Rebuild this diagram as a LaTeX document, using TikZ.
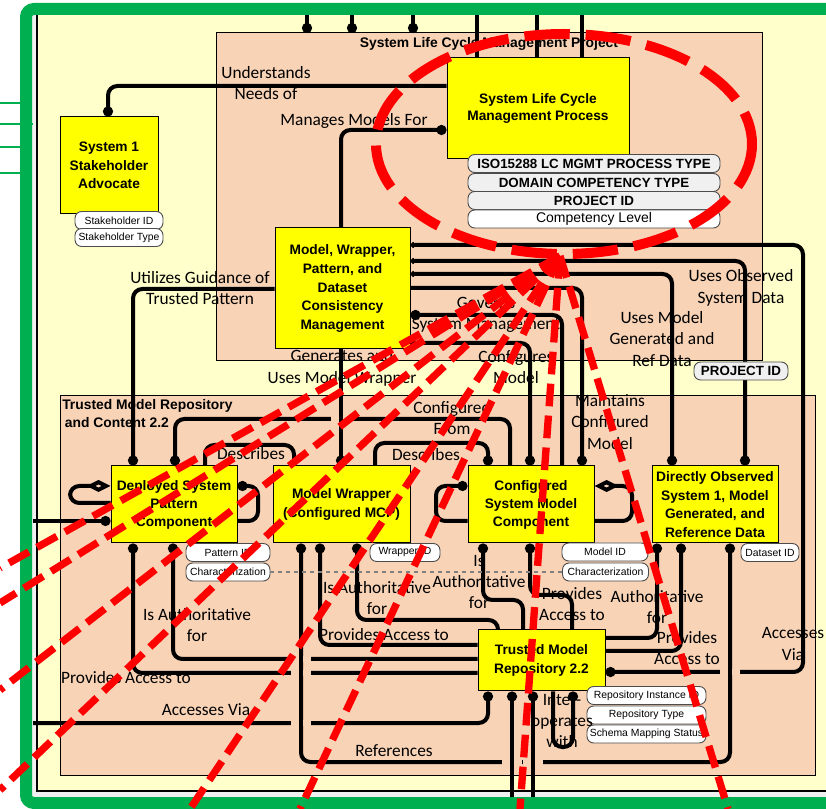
\documentclass[tikz,border=0pt]{standalone}
\usepackage{fontspec}
\setmainfont{Liberation Sans}
\newfontfamily\lblfont{Carlito}
\usetikzlibrary{arrows.meta}
\definecolor{frmgreen}{RGB}{0,176,80}
\definecolor{bgyellow}{RGB}{255,255,204}
\definecolor{pkgtan}{RGB}{248,211,182}
\definecolor{boxyellow}{RGB}{255,255,0}
\definecolor{attrgrey}{RGB}{240,240,240}
\begin{document}
\begin{tikzpicture}[x=0.75pt,y=-0.75pt,
    >={Circle[length=7.5pt,width=7.5pt]},
    conn/.style={line width=3pt,rounded corners=7pt},
    pkg/.style={draw,line width=0.75pt,fill=pkgtan},
    blk/.style={draw,line width=0.75pt,fill=boxyellow,align=center,inner sep=1pt,
        font=\bfseries\fontsize{10.3}{14}\selectfont},
    attr/.style={draw=black!70,line width=0.7pt,fill=white,rounded corners=5pt,
        minimum height=13.5pt,inner sep=0pt,font=\fontsize{7.8}{9}\selectfont},
    attrb/.style={attr,fill=attrgrey,font=\bfseries\fontsize{10}{11}\selectfont},
    lbl/.style={align=center,inner sep=0pt,font=\lblfont\fontsize{13}{16}\selectfont},
    redd/.style={draw=red,line width=5.5pt,dash pattern=on 17pt off 7pt}]
    \useasboundingbox (0,0) rectangle (826,809);
    \clip (0,0) rectangle (826,809);
    % frame
    \fill[white!94!black] (26,9) rectangle (860,803);
    \filldraw[fill=bgyellow,line width=1.2pt] (37,14) rectangle (850,791);
    \draw[frmgreen,line width=9pt,rounded corners=6pt] (26,9) rectangle (870,803);
    \foreach \gy in {103,147,173} \draw[frmgreen,line width=2.2pt] (0,\gy) -- (22,\gy);
    \draw[frmgreen,line width=2.2pt] (0,124) -- (33,124);
    % packages
    \draw[pkg] (216,33) rectangle (762,361);
    \draw[pkg] (60,396) rectangle (815,775);
    \node[font=\bfseries\fontsize{10.4}{12}\selectfont] (prjtitle) at (489,44) {System Life Cycle Management Project};
    \node[anchor=north west,align=left,inner sep=0pt,font=\bfseries\fontsize{10.4}{13.5}\selectfont] (reptitle) at (62,399) {Trusted Model Repository\\\hspace{2pt}and Content 2.2};
    % blocks
    \node[blk,minimum width=73.5pt,minimum height=72.75pt] (adv) at (109,165.5) {System 1\\Stakeholder\\Advocate};
    \node[blk,minimum width=136.5pt,minimum height=75.75pt,font=\bfseries\fontsize{10.3}{12.75}\selectfont] (slcmp) at (538,108.5) {System Life Cycle\\Management Process};
    \node[blk,minimum width=101.25pt,minimum height=90.75pt] (mwp) at (342.5,288.5) {Model, Wrapper,\\Pattern, and\\Dataset\\Consistency\\Management};
    \node[blk,minimum width=94.5pt,minimum height=57.75pt,font=\bfseries\fontsize{10.3}{13.5}\selectfont] (dep) at (174,504.5) {Deployed System\\Pattern\\Component};
    \node[blk,minimum width=102.75pt,minimum height=57.75pt] (wrap) at (341.5,504.5) {Model Wrapper\\(Configured MCP)};
    \node[blk,minimum width=94.5pt,minimum height=57.75pt,font=\bfseries\fontsize{10.3}{13.5}\selectfont] (csm) at (531,504.5) {Configured\\System Model\\Component};
    \node[blk,minimum width=94.5pt,minimum height=57.75pt,inner sep=0pt] (dos) at (715,504.5) {Directly Observed\\System 1, Model\\Generated, and\\Reference Data};
    \node[blk,minimum width=95.25pt,minimum height=45.75pt] (tmr) at (541.5,660.5) {Trusted Model\\Repository 2.2};
    % top stubs
    \foreach \tx in {307,352,413} \draw[conn,->] (\tx,15) -- (\tx,33);
    \foreach \tx in {477,537,582} \draw[conn] (\tx,15) -- (\tx,0 |- slcmp.north);
    % connectors
    \draw[conn,->] (slcmp.west |- 0,86) -| (108,0 |- adv.north); % understands
    \draw[conn,->] (341,0 |- mwp.north) |- (slcmp.west |- 0,130); % manages
    \draw[conn,->] (mwp.west |- 0,289) -| (133,0 |- dep.north); % utilizes
    \draw[conn,->] (341,0 |- mwp.south) -- (341,0 |- wrap.north); % generates
    \draw[conn,{Circle[length=4pt,width=4pt]}->] (mwp.east |- 0,245) -| (803,672) -- (tmr.east |- 0,672); % accesses via
    \draw[conn,{Circle[length=4pt,width=4pt]}->] (mwp.east |- 0,261) -| (745,0 |- dos.north); % observed
    \draw[conn,{Circle[length=4pt,width=4pt]}->] (mwp.east |- 0,274) -| (672,0 |- dos.north); % ref data
    \draw[conn,->] (mwp.east |- 0,288) -| (582,0 |- csm.north); % maintains
    \draw[conn,<-] (mwp.east |- 0,315) -| (562,0 |- csm.north); % governs
    \draw[conn,->] (mwp.east |- 0,343) -| (530,0 |- csm.north); % configures
    \draw[conn,<-] (175,0 |- dep.north) |- (510,419) -- (510,0 |- csm.north); % configured from
    \draw[conn] (205,0 |- dep.north) |- (294,445) -- (294,0 |- wrap.north); % describes
    \draw[conn,->] (375,0 |- wrap.north) |- (488,443) -- (488,0 |- csm.north); % describes
    \draw[conn,{Diamond[open,length=18pt,width=9pt]}-] (dep.west |- 0,486) -- (70,486) -- (70,503) -- (dep.west |- 0,503);
    \draw[conn,<-] (dep.east |- 0,486) -- (258,486) -- (258,521) -- (dep.east |- 0,521);
    \draw[conn,->] (33,521) -- (dep.west |- 0,521);
    \draw[conn,<-] (csm.west |- 0,486) -- (436,486) -- (436,521) -- (csm.west |- 0,521);
    \draw[conn,{Diamond[open,length=18pt,width=9pt]}-] (csm.east |- 0,486) -- (632,486) -- (632,521) -- (csm.east |- 0,521);
    \draw[conn,<-] (173,0 |- dep.south) |- (tmr.west |- 0,659); % is authoritative
    \draw[conn,<-] (133,0 |- dep.south) |- (tmr.west |- 0,673); % provides access
    \draw[conn,<-] (320,0 |- wrap.south) |- (tmr.west |- 0,645); % provides access
    \draw[conn,<-] (357,0 |- wrap.south) |- (498,620) -- (498,0 |- tmr.north); % is authoritative
    \draw[conn,<->] (301,0 |- wrap.south) |- (730,762) -- (730,0 |- dos.south); % references
    \draw[conn,<-] (483,0 |- csm.south) |- (523,600) -- (523,0 |- tmr.north);
    \draw[conn,<-] (530,0 |- csm.south) |- (572,595) -- (572,0 |- tmr.north);
    \draw[conn,<-] (657,0 |- dos.south) |- (tmr.east |- 0,638);
    \draw[conn,<-] (681,0 |- dos.south) |- (tmr.east |- 0,651);
    \draw[conn,->] (33,723) -| (488,0 |- tmr.south); % accesses via
    \draw[conn,<-] (512,0 |- tmr.south) -- (512,797);
    \draw[conn,<-] (533,0 |- tmr.south) -- (533,797);
    \draw[conn,->] (553,0 |- tmr.south) -- (553,747) -- (573,747) -- (573,0 |- tmr.south); % inter-operates
    % line jumps
    \foreach \jx/\jy in {341/419,301/659,301/673,301/723,730/672,512/762,533/762} {
        \draw[pkgtan,line width=4pt] (\jx-10,\jy) -- (\jx+10,\jy);
        \draw[line width=3pt] (\jx,\jy-8) -- (\jx,\jy+8);
    }
    % attributes
    \node[attr,minimum width=66pt] (shid) at (119,220.5) {Stakeholder ID};
    \node[attr,minimum width=66pt] (shtype) at (119,237.5) {Stakeholder Type};
    \node[attrb,minimum width=189pt] (isotype) at (594,163.5) {ISO15288 LC MGMT PROCESS TYPE};
    \node[attrb,minimum width=189pt] (domtype) at (594,182.5) {DOMAIN COMPETENCY TYPE};
    \node[attrb,minimum width=189pt] (projid) at (594,200.5) {PROJECT ID};
    \node[attr,minimum width=189pt,font=\fontsize{10.5}{12}\selectfont] (complvl) at (594,219) {Competency Level};
    \node[attrb,minimum width=70.5pt] (projid2) at (741,371) {PROJECT ID};
    \node[attr,minimum width=63pt] (patid) at (228,552.5) {Pattern ID};
    \node[attr,minimum width=63pt] (pchar) at (228,572) {Characterization};
    \node[attr,minimum width=52.5pt] (wrapid) at (405,552.5) {Wrapper ID};
    \node[attr,minimum width=64.5pt] (modid) at (605,552) {Model ID};
    \node[attr,minimum width=64.5pt] (mchar) at (605.5,572) {Characterization};
    \node[attr,minimum width=43.5pt] (dsid) at (770,552.5) {Dataset ID};
    \node[attr,minimum width=89.25pt] (repid) at (646.5,695.5) {Repository Instance ID};
    \node[attr,minimum width=89.25pt] (reptype) at (646.5,715) {Repository Type};
    \node[attr,minimum width=89.25pt] (schema) at (646.5,734) {Schema Mapping Status};
    \draw[dashed,gray,line width=0.8pt] (pchar.east) -- (mchar.west);
    % labels
    \node[lbl] (lunder) at (266,83) {Understands\\Needs of};
    \node[lbl] (lmanage) at (354,121) {Manages Models For};
    \node[lbl] (lutil) at (200,288) {Utilizes Guidance of\\Trusted Pattern};
    \node[lbl] (lgen) at (342,368) {Generates and\\Uses Model Wrapper};
    \node[lbl] (lgov) at (486,315) {Governs\\System Management};
    \node[lbl] (lconf) at (516,367) {Configures\\Model};
    \node[lbl] (lref) at (662,339) {Uses Model\\Generated and\\Ref Data};
    \node[lbl] (lobs) at (741,288) {Uses Observed\\System Data};
    \node[lbl] (lfrom) at (452,418) {Configured\\From};
    \node[lbl] (lmaint) at (610,422) {Maintains\\Configured\\Model};
    \node[lbl] (ldesc) at (251,454) {Describes};
    \node[lbl] (ldesc2) at (426,455) {Describes};
    \node[lbl] (lauth) at (197,625) {Is Authoritative\\for};
    \node[lbl] (lauth2) at (377,598) {Is Authoritative\\for};
    \node[lbl] (lauth3) at (479,582) {Is\\Authoritative\\for};
    \node[lbl] (lprov) at (572,604) {Provides\\Access to};
    \node[lbl] (lauth4) at (657,607) {Authoritative\\for};
    \node[lbl] (lprov2) at (687,648) {Provides\\Access to};
    \node[lbl] (lacc) at (793,644) {Accesses\\Via};
    \node[lbl] (lprov3) at (384,635) {Provides Access to};
    \node[lbl] (lprov4) at (126,678) {Provides Access to};
    \node[lbl] (lacc2) at (206,710) {Accesses Via};
    \node[lbl] (lrefs) at (394,751) {References};
    \node[lbl] (linter) at (562,721) {Inter-\\operates\\with};
    % red highlight
    \draw[red,line width=7.5pt,dash pattern=on 34pt off 12pt] (564,144) ellipse [x radius=188,y radius=110];
    \coordinate (apex) at (560,256);
    \foreach \ex/\ey in {0/568,0/603,0/690,0/790,190/809,300/809,520/809,728/809}
        \draw[redd] (apex) -- (\ex,\ey);
\end{tikzpicture}
\end{document}
